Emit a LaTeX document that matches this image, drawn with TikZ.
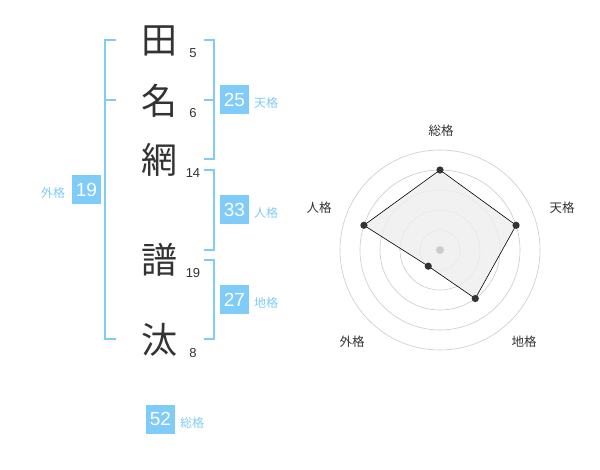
\documentclass[tikz,border=0pt]{standalone}
\usepackage{fontspec}
\setmainfont{Liberation Sans}
\newfontfamily\jp{Noto Sans CJK JP}
\definecolor{kakublue}{HTML}{80CCF8}
\definecolor{inkgray}{HTML}{333333}
\definecolor{ringgray}{HTML}{CCCCCC}
\definecolor{areagray}{HTML}{EEEEEE}
\tikzset{
    kanji/.style={text=inkgray, font=\jp\fontsize{36}{36}\selectfont, inner sep=0pt},
    stroke/.style={text=inkgray, font=\fontsize{13}{13}\selectfont, inner sep=0pt},
    kakubox/.style={fill=kakublue, text=white, font=\fontsize{19}{19}\selectfont, minimum size=29pt, inner sep=0pt},
    kakuname/.style={text=kakublue, font=\jp\fontsize{12}{12}\selectfont, inner sep=0pt},
    bracket/.style={draw=kakublue, line width=1.6pt},
    axisname/.style={text=inkgray, font=\jp\fontsize{12.5}{12.5}\selectfont, inner sep=0pt},
}
\begin{document}
\begin{tikzpicture}[x=1pt, y=-1pt]
        \useasboundingbox[fill=white] (0,0) rectangle (600,470);

        % name
        \path (159, 41)  node[kanji] (c1) {田};
        \path (159, 101) node[kanji] (c2) {名};
        \path (159, 160) node[kanji] (c3) {網};
        \path (159, 260) node[kanji] (c4) {譜};
        \path (159, 340) node[kanji] (c5) {汰};
        \path (193, 53)  node[stroke] (n1) {5};
        \path (193, 113) node[stroke] (n2) {6};
        \path (193, 173) node[stroke] (n3) {14};
        \path (193, 273) node[stroke] (n4) {19};
        \path (193, 353) node[stroke] (n5) {8};

        % brackets
        \draw[bracket] (116, 40) -- (105, 40) -- (105, 339) -- (116, 339);
        \draw[bracket] (105, 100) -- (116, 100);
        \draw[bracket] (204, 40) -- (214, 40) -- (214, 159) -- (204, 159);
        \draw[bracket] (214, 100) -- (204, 100);
        \draw[bracket] (204, 170) -- (214, 170) -- (214, 250) -- (204, 250);
        \draw[bracket] (204, 260) -- (214, 260) -- (214, 339) -- (204, 339);

        % kakusuu
        \path (234.5, 100) node[kakubox] (ten) {25};
        \path (266, 103)   node[kakuname]     {天格};
        \path (234.5, 210) node[kakubox] (jin) {33};
        \path (266, 213)   node[kakuname]     {人格};
        \path (234.5, 300) node[kakubox] (chi) {27};
        \path (266, 303)   node[kakuname]     {地格};
        \path (86.5, 190)  node[kakubox] (gai) {19};
        \path (53, 193)    node[kakuname]     {外格};
        \path (160.5, 419) node[kakubox] (sou) {52};
        \path (192, 423)   node[kakuname]     {総格};

        % radar
        \path (441, 131) node[axisname] {総格};
        \path (562, 208) node[axisname] {天格};
        \path (524, 342) node[axisname] {地格};
        \path (352, 342) node[axisname] {外格};
        \path (319, 208) node[axisname] {人格};
        \begin{scope}[shift={(440, 250)}, y=1pt]
        \draw[ringgray, line width=0.6pt] (0, 0) circle (20);
        \draw[ringgray, line width=0.6pt] (0, 0) circle (40);
        \draw[ringgray, line width=0.6pt] (0, 0) circle (60);
        \draw[ringgray, line width=0.6pt] (0, 0) circle (80);
        \draw[ringgray, line width=0.6pt] (0, 0) circle (100);
        \coordinate (pS) at (90:80);
        \coordinate (pT) at (18:80);
        \coordinate (pC) at (-54:60);
        \coordinate (pG) at (-126:20);
        \coordinate (pJ) at (162:80);
        \draw[black, line width=0.6pt, fill=areagray, fill opacity=0.8] (pS) -- (pT) -- (pC) -- (pG) -- (pJ) -- cycle;
        \fill[ringgray] (0, 0) circle (4);
        \fill[inkgray] (pS) circle (3.6);
        \fill[inkgray] (pT) circle (3.6);
        \fill[inkgray] (pC) circle (3.6);
        \fill[inkgray] (pG) circle (3.6);
        \fill[inkgray] (pJ) circle (3.6);
        \end{scope}
    \end{tikzpicture}
\end{document}
